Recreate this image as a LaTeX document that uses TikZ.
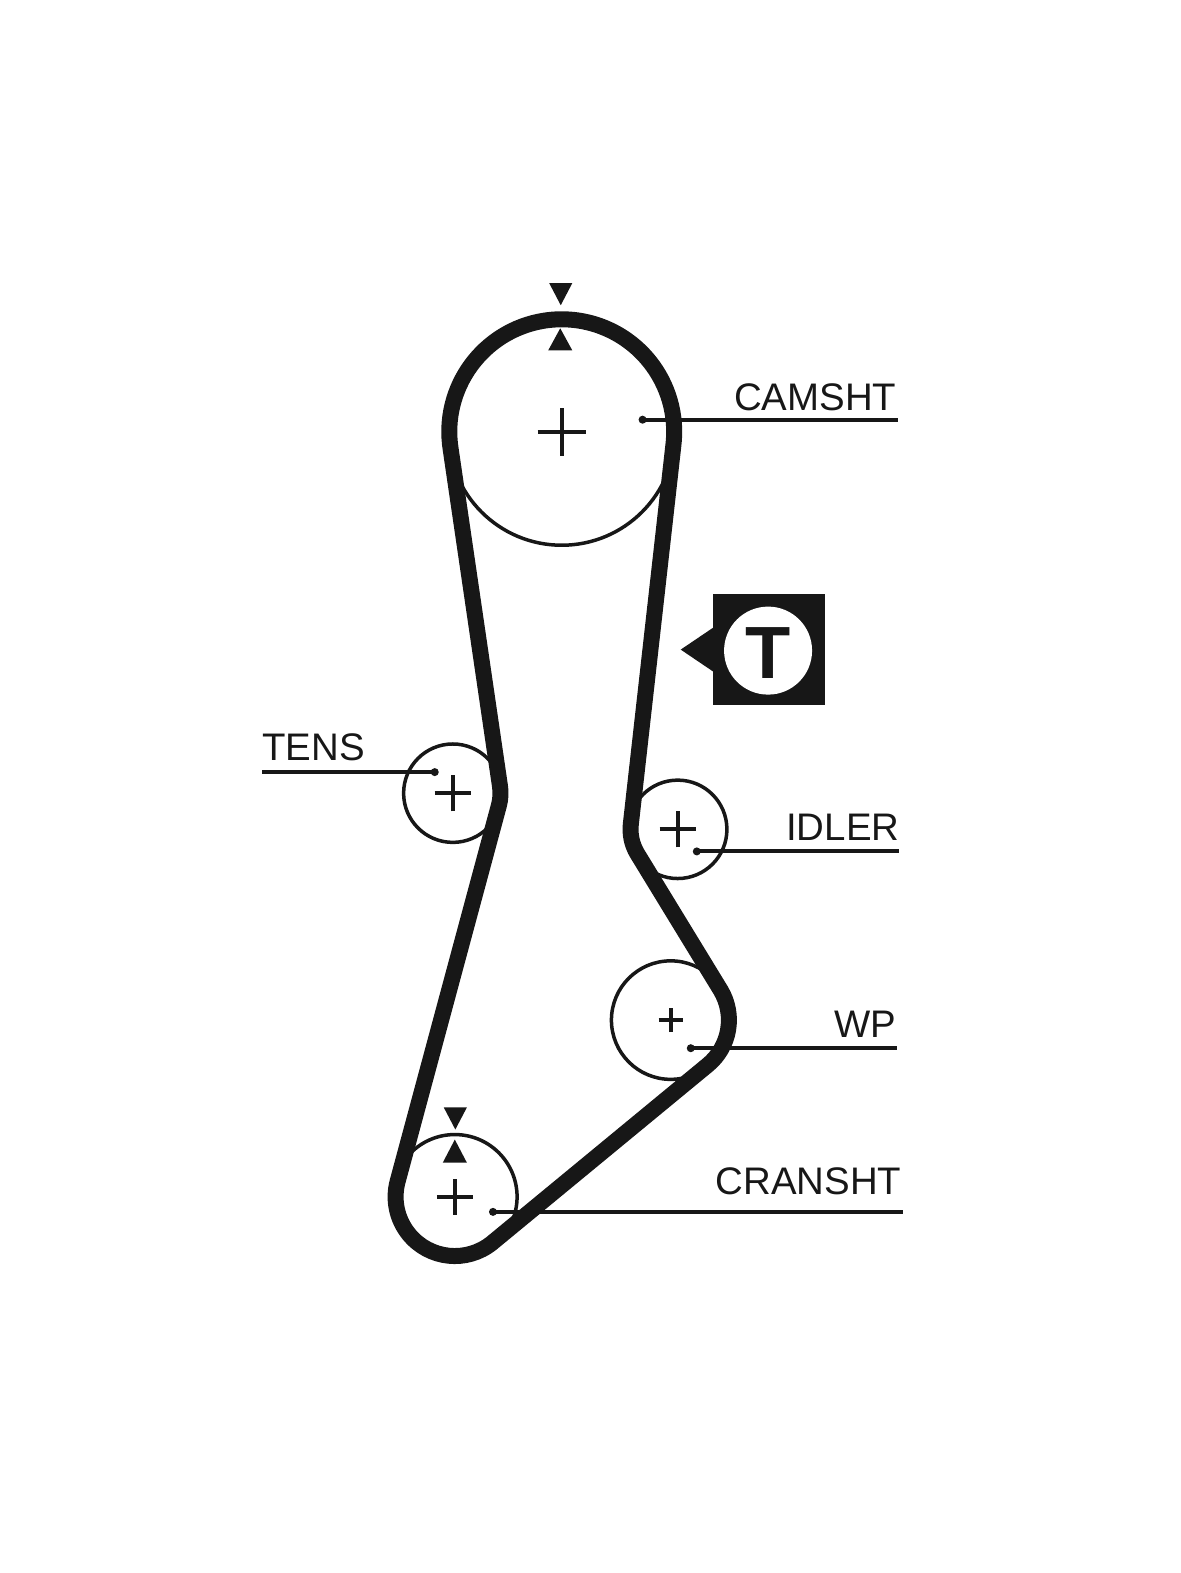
\documentclass[tikz,border=0pt]{standalone}
\usepackage{fontspec}
\setmainfont{Liberation Sans}
\usetikzlibrary{calc}

\definecolor{inkblack}{gray}{0.09}

\tikzset{
    pulleywheel/.style={circle,draw=inkblack,line width=3.5pt,inner sep=0pt},
    beltline/.style={draw=inkblack,line width=16pt,line join=round},
    thinline/.style={draw=inkblack,line width=4pt},
    leaderline/.style={draw=inkblack,line width=4pt},
    partlabel/.style={inner sep=0pt,text=inkblack,font=\fontsize{38.4}{40}\selectfont},
    badgeletter/.style={inner sep=0pt,text=inkblack,font=\fontsize{74}{76}\selectfont\bfseries}
}

\begin{document}
\begin{tikzpicture}[x=1.004pt,y=1.004pt]
        \useasboundingbox (0,0) rectangle (1175.3,-1566.7);

        \node[pulleywheel,minimum size=227pt] (cam) at (559.5,-430) {};
        \node[pulleywheel,minimum size=98.4pt] (tens) at (451,-790) {};
        \node[pulleywheel,minimum size=98.4pt] (idler) at (675,-826) {};
        \node[pulleywheel,minimum size=118.5pt] (wp) at (668,-1016) {};
        \node[pulleywheel,minimum size=124.5pt] (crank) at (453,-1192) {};

        \foreach \pulley/\arm in {cam/24,tens/18,idler/18,wp/12,crank/18} {
            \draw[thinline] ($(\pulley)+(-\arm,0)$) -- ($(\pulley)+(\arm,0)$);
            \draw[thinline] ($(\pulley)+(0,-\arm)$) -- ($(\pulley)+(0,\arm)$);
        }

        \draw[beltline] ($(cam)+(188.9:112)$) arc[start angle=188.9,end angle=-7.2,radius=112]
            -- ($(idler)+(172.8:47)$) arc[start angle=172.8,end angle=211,radius=47]
            -- ($(wp)+(31:58)$) arc[start angle=31,end angle=-51,radius=58]
            -- ($(crank)+(-51:59)$) arc[start angle=-51,end angle=-195.2,radius=59]
            -- ($(tens)+(-15.2:47.5)$) arc[start angle=-15.2,end angle=8.9,radius=47.5]
            -- cycle;

        \fill[inkblack] (547,-282) -- (570,-282) -- (558.5,-304) -- cycle;
        \fill[inkblack] (546,-349) -- (570,-349) -- (558,-327) -- cycle;
        \fill[inkblack] (442,-1103) -- (465,-1103) -- (453.5,-1125) -- cycle;
        \fill[inkblack] (441,-1158) -- (465,-1158) -- (453,-1135) -- cycle;

        \fill[inkblack] (710,-592) rectangle (822,-702);
        \fill[inkblack] (678,-647) -- (712,-624) -- (712,-670) -- cycle;
        \node[circle,fill=white,minimum size=88pt,inner sep=0pt] (badge) at (765,-648) {};
        \node[badgeletter] (letterT) at ($(badge)+(0,-2)$) {T};

        \coordinate (camdot) at (640,-418);
        \coordinate (camend) at (894,-418);
        \coordinate (tensdot) at (433,-769);
        \coordinate (tensend) at (261,-769);
        \coordinate (idlerdot) at (694,-848);
        \coordinate (idlerend) at (895,-848);
        \coordinate (wpdot) at (688,-1044);
        \coordinate (wpend) at (893,-1044);
        \coordinate (crankdot) at (491,-1207);
        \coordinate (crankend) at (899,-1207);

        \foreach \leader in {cam,tens,idler,wp,crank} {
            \draw[leaderline] (\leader dot) -- (\leader end);
            \fill[inkblack] (\leader dot) circle (4);
        }

        \node[partlabel,anchor=base east] (camlabel) at ($(camend)+(-1,9)$) {CAMSHT};
        \node[partlabel,anchor=base west] (tenslabel) at ($(tensend)+(0,12)$) {TENS};
        \node[partlabel,anchor=base east] (idlerlabel) at ($(idlerend)+(1,11)$) {IDLER};
        \node[partlabel,anchor=base east] (wplabel) at ($(wpend)+(0,11)$) {WP};
        \node[partlabel,anchor=base east] (cranklabel) at ($(crankend)+(-1,17)$) {CRANSHT};

    \end{tikzpicture}
\end{document}
